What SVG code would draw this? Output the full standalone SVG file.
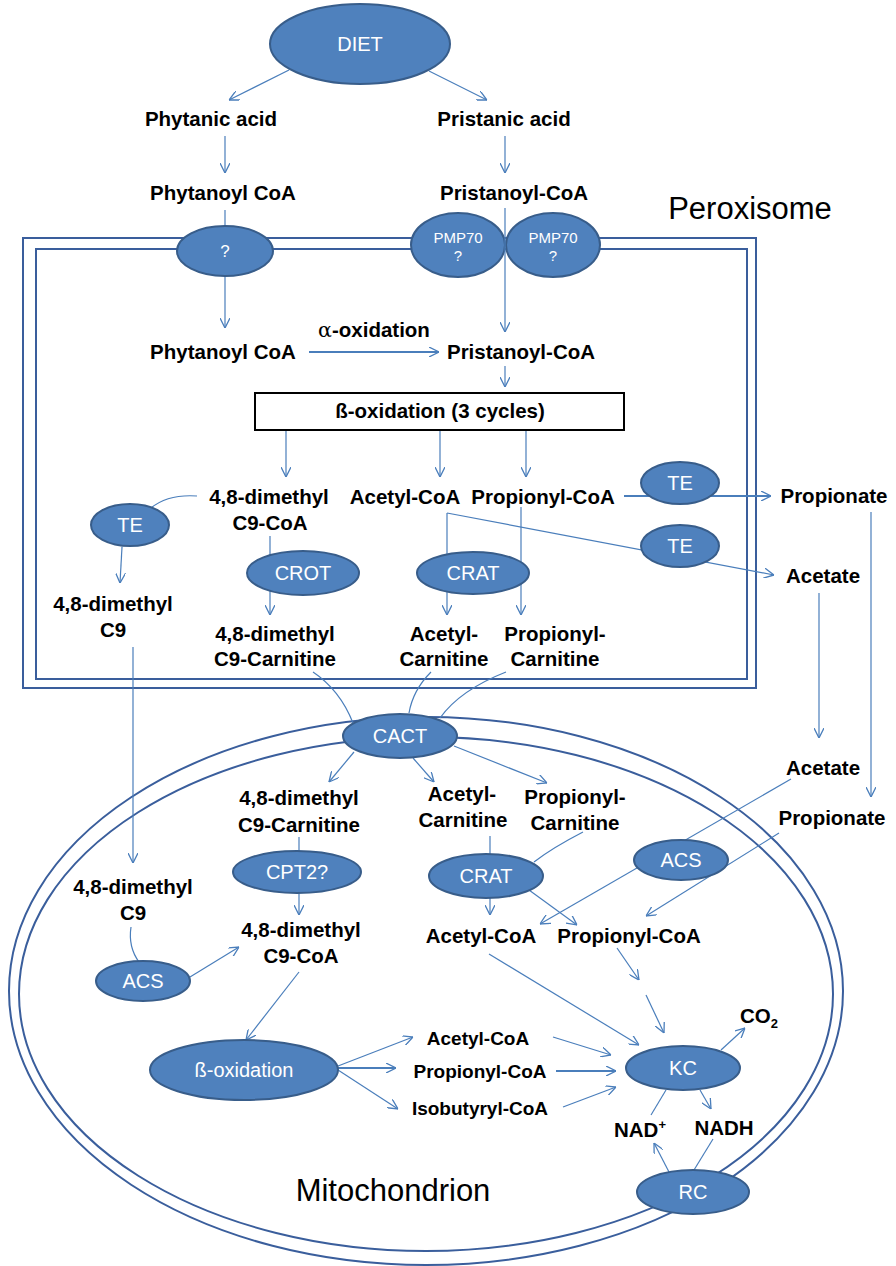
<svg xmlns="http://www.w3.org/2000/svg" width="896" height="1266" viewBox="0 0 896 1266">
<defs>
<marker id="arr" viewBox="0 0 10 10" refX="10" refY="5" markerWidth="10" markerHeight="10" markerUnits="userSpaceOnUse" orient="auto">
<path d="M0,0 L10,5 L0,10" fill="none" stroke="#4A7EBB" stroke-width="1.3"/>
</marker>
<style>
.c{fill:none;stroke:#4A7EBB;stroke-width:1.2}
.a{marker-end:url(#arr)}
.t{stroke-width:2}
.n{fill:#4F81BD;stroke:#385D8A;stroke-width:2}
.w{fill:#FFFFFF;font-family:"Liberation Sans",Arial,sans-serif;font-size:20px;text-anchor:middle}
.b{fill:#000;font-family:"Liberation Sans",Arial,sans-serif;font-size:20.5px;font-weight:bold;text-anchor:middle}
.s{fill:#000;font-family:"Liberation Sans",Arial,sans-serif;font-size:19px;font-weight:bold;text-anchor:middle}
.big{fill:#000;font-family:"Liberation Sans",Arial,sans-serif;font-size:31px;text-anchor:middle}
.m{fill:none;stroke:#3A5E9C;stroke-width:2}
</style>
</defs>
<rect width="896" height="1266" fill="#FFFFFF"/>

<g id="peroxisome-membrane">
<rect x="23" y="238" width="733" height="450" class="m"/>
<rect x="36" y="249" width="711" height="430" class="m"/>
<text x="750" y="219" class="big">Peroxisome</text>
</g>
<g id="mitochondrion-membrane">
<ellipse cx="426" cy="991" rx="417" ry="274" class="m"/>
<ellipse cx="426" cy="994" rx="407" ry="257" class="m"/>
<text x="393" y="1201" class="big">Mitochondrion</text>
</g>

<g id="connectors">
<path class="c a" d="M289,70 L229,100"/>
<path class="c a" d="M429,71 L487,100"/>
<path class="c a" d="M225,136 V173"/>
<path class="c a" d="M505,136 V173"/>
<path class="c a" d="M225,210 V328"/>
<path class="c a t" d="M309,352 H439"/>
<path class="c a" d="M505,366 V387"/>
<path class="c a" d="M286,430 V477"/>
<path class="c a" d="M440,430 V477"/>
<path class="c a" d="M526,430 V477"/>
<path class="c a t" d="M624,496 H771"/>
<path class="c a" d="M447,513 L774,575"/>
<path class="c a" d="M447,513 V615"/>
<path class="c a" d="M521,507 V615"/>
<path class="c a" d="M270,536 V615"/>
<path class="c" d="M197,496 Q168,494 151,508"/>
<path class="c a" d="M122,547 L120,583"/>
<path class="c a" d="M133,647 V863"/>
<path class="c a" d="M819,593 V738"/>
<path class="c a" d="M871,512 V797"/>
<path class="c" d="M313,672 Q340,690 353,723"/>
<path class="c" d="M431,672 Q413,690 409,713"/>
<path class="c" d="M506,672 Q460,690 440,718"/>
<path class="c a" d="M354,752 L329,782"/>
<path class="c a" d="M413,758 L434,782"/>
<path class="c a" d="M454,746 L547,783"/>
<path class="c a" d="M299,837 V915"/>
<path class="c" d="M131,927 Q128,947 139,962"/>
<path class="c a" d="M190,977 L239,947"/>
<path class="c a" d="M490,836 V915"/>
<path class="c" d="M583,832 Q552,848 534,862"/>
<path class="c a" d="M529,890 L577,925"/>
<path class="c a" d="M791,779 L540,924"/>
<path class="c a" d="M779,833 L646,916"/>
<path class="c a" d="M489,954 L639,1045"/>
<path class="c a" d="M617,948 L639,980"/>
<path class="c a" d="M646,995 L664,1033"/>
<path class="c a" d="M299,972 L246,1040"/>
<path class="c a" d="M338,1066 L413,1037"/>
<path class="c a t" d="M338,1068 H396"/>
<path class="c a" d="M338,1070 L398,1109"/>
<path class="c a" d="M553,1037 L611,1055"/>
<path class="c a t" d="M556,1071 H616"/>
<path class="c a" d="M563,1107 L616,1087"/>
<path class="c a" d="M721,1050 L745,1028"/>
<path class="c" d="M651,1115 L666,1090"/>
<path class="c a" d="M700,1090 L711,1109"/>
<path class="c" d="M713,1139 L694,1170"/>
<path class="c a" d="M669,1172 L654,1143"/>
</g>

<g id="diet"><ellipse cx="360" cy="44" rx="90" ry="40" class="n"/><text x="360" y="51" class="w">DIET</text></g>
<g id="phytanic-acid"><text x="211" y="126" class="b">Phytanic acid</text></g>
<g id="pristanic-acid"><text x="504" y="126" class="b">Pristanic acid</text></g>
<g id="phytanoyl-coa-cyto"><text x="223" y="200" class="b">Phytanoyl CoA</text></g>
<g id="pristanoyl-coa-cyto"><text x="514" y="200" class="b">Pristanoyl-CoA</text></g>
<g id="transporter-q"><ellipse cx="225" cy="251" rx="48" ry="25" class="n"/><text x="225" y="257" class="w" style="font-size:17px">?</text></g>
<g id="pmp70-a"><ellipse cx="458" cy="245" rx="47" ry="32" class="n"/><text x="458" y="243" class="w" style="font-size:15px">PMP70</text><text x="458" y="261" class="w" style="font-size:15px">?</text></g>
<g id="pmp70-b"><ellipse cx="553" cy="245" rx="47" ry="32" class="n"/><text x="553" y="243" class="w" style="font-size:15px">PMP70</text><text x="553" y="261" class="w" style="font-size:15px">?</text></g>
<g id="connectors-over"><path class="c a" d="M505,208 V332"/></g>

<g id="phytanoyl-coa-perox"><text x="223" y="359" class="b">Phytanoyl CoA</text></g>
<g id="alpha-oxidation-label"><text x="374" y="337" class="b"><tspan font-weight="normal" font-family="'DejaVu Serif',serif">α</tspan>-oxidation</text></g>
<g id="pristanoyl-coa-perox"><text x="521" y="359" class="b">Pristanoyl-CoA</text></g>
<g id="beta-oxidation-box"><rect x="255" y="393" width="369" height="37" fill="#FFFFFF" stroke="#000" stroke-width="2"/><text x="440" y="418" class="b">ß-oxidation (3 cycles)</text></g>

<g id="dmc9-coa-perox"><text x="269" y="504" class="b">4,8-dimethyl</text><text x="270" y="530" class="b">C9-CoA</text></g>
<g id="acetyl-coa-perox"><text x="405" y="504" class="b">Acetyl-CoA</text></g>
<g id="propionyl-coa-perox"><text x="543" y="504" class="b">Propionyl-CoA</text></g>
<g id="te-propionyl"><ellipse cx="680" cy="483" rx="39" ry="21" class="n"/><text x="680" y="490" class="w">TE</text></g>
<g id="te-acetyl"><ellipse cx="680" cy="546" rx="39" ry="21" class="n"/><text x="680" y="553" class="w">TE</text></g>
<g id="propionate-perox"><text x="834" y="503" class="b">Propionate</text></g>
<g id="acetate-perox"><text x="823" y="583" class="b">Acetate</text></g>
<g id="te-left"><ellipse cx="130" cy="525" rx="39" ry="21" class="n"/><text x="130" y="532" class="w">TE</text></g>
<g id="dmc9-perox"><text x="113" y="611" class="b">4,8-dimethyl</text><text x="113" y="637" class="b">C9</text></g>
<g id="crot"><ellipse cx="303" cy="573" rx="56" ry="22" class="n"/><text x="303" y="580" class="w">CROT</text></g>
<g id="crat-perox"><ellipse cx="473" cy="573" rx="56" ry="21" class="n"/><text x="473" y="580" class="w">CRAT</text></g>
<g id="dmc9-carnitine-perox"><text x="275" y="641" class="b">4,8-dimethyl</text><text x="275" y="666" class="b">C9-Carnitine</text></g>
<g id="acetyl-carnitine-perox"><text x="444" y="641" class="b">Acetyl-</text><text x="444" y="666" class="b">Carnitine</text></g>
<g id="propionyl-carnitine-perox"><text x="555" y="641" class="b">Propionyl-</text><text x="555" y="666" class="b">Carnitine</text></g>

<g id="cact"><ellipse cx="400" cy="736" rx="57" ry="22" class="n"/><text x="400" y="743" class="w">CACT</text></g>
<g id="dmc9-carnitine-mito"><text x="299" y="805" class="b">4,8-dimethyl</text><text x="299" y="832" class="b">C9-Carnitine</text></g>
<g id="acetyl-carnitine-mito"><text x="462" y="801" class="b">Acetyl-</text><text x="463" y="827" class="b">Carnitine</text></g>
<g id="propionyl-carnitine-mito"><text x="575" y="804" class="b">Propionyl-</text><text x="575" y="830" class="b">Carnitine</text></g>
<g id="cpt2"><ellipse cx="297" cy="872" rx="64" ry="21" class="n"/><text x="297" y="879" class="w">CPT2?</text></g>
<g id="dmc9-coa-mito"><text x="301" y="937" class="b">4,8-dimethyl</text><text x="301" y="963" class="b">C9-CoA</text></g>
<g id="dmc9-mito"><text x="133" y="894" class="b">4,8-dimethyl</text><text x="133" y="920" class="b">C9</text></g>
<g id="acs-left"><ellipse cx="143" cy="981" rx="47" ry="20" class="n"/><text x="143" y="988" class="w">ACS</text></g>
<g id="crat-mito"><ellipse cx="486" cy="876" rx="57" ry="22" class="n"/><text x="486" y="883" class="w">CRAT</text></g>
<g id="acetyl-coa-mito"><text x="481" y="943" class="b">Acetyl-CoA</text></g>
<g id="propionyl-coa-mito"><text x="629" y="943" class="b">Propionyl-CoA</text></g>
<g id="acs-right"><ellipse cx="681" cy="860" rx="47" ry="20" class="n"/><text x="681" y="867" class="w">ACS</text></g>
<g id="acetate-mito"><text x="823" y="775" class="b">Acetate</text></g>
<g id="propionate-mito"><text x="832" y="825" class="b">Propionate</text></g>
<g id="beta-oxidation-mito"><ellipse cx="244" cy="1070" rx="94" ry="30" class="n"/><text x="244" y="1077" class="w">ß-oxidation</text></g>
<g id="acetyl-coa-beta"><text x="478" y="1045" class="s">Acetyl-CoA</text></g>
<g id="propionyl-coa-beta"><text x="480" y="1078" class="s">Propionyl-CoA</text></g>
<g id="isobutyryl-coa-beta"><text x="480" y="1115" class="s">Isobutyryl-CoA</text></g>
<g id="kc"><ellipse cx="683" cy="1068" rx="57" ry="22" class="n"/><text x="683" y="1075" class="w">KC</text></g>
<g id="co2"><text x="740" y="1023" class="b" style="text-anchor:start">CO<tspan font-size="13" dy="5">2</tspan></text></g>
<g id="nad"><text x="640" y="1137" class="b">NAD<tspan font-size="13" dy="-8">+</tspan></text></g>
<g id="nadh"><text x="724" y="1135" class="b">NADH</text></g>
<g id="rc"><ellipse cx="693" cy="1192" rx="56" ry="22" class="n"/><text x="693" y="1199" class="w">RC</text></g>
</svg>
